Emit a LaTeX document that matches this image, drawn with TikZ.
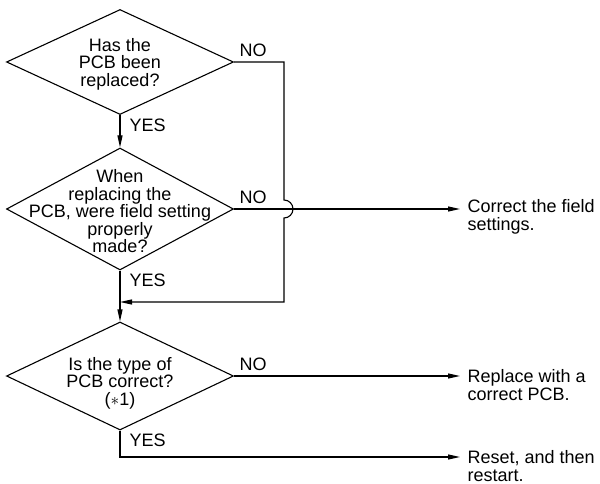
\documentclass[tikz,border=0pt]{standalone}
\usepackage{fontspec}
\setmainfont{Liberation Sans}
\usetikzlibrary{shapes.geometric,arrows.meta}

\begin{document}
\begin{tikzpicture}[x=1pt,y=1pt,line width=1.1pt,
        every node/.style={font=\fontsize{18}{17.5}\selectfont},
        decision/.style={draw,diamond,inner sep=0pt,minimum width=227pt},
        result/.style={align=left,anchor=north west,inner xsep=7pt,inner ysep=0pt},
        flow/.style={-{Triangle[length=12pt,width=5pt]}},
        no/.style={above right,inner sep=5pt},
        yes/.style={below right,inner xsep=9pt,inner ysep=3pt}]
    \useasboundingbox (0,0) rectangle (600,483);

    % questions
    \node[decision,minimum height=105pt,
        label={[align=center,yshift=-2pt]center:Has the\\PCB been\\replaced?}] (pcbrep) at (120,421) {};
    \node[decision,minimum height=122pt,
        label={[align=center,yshift=-2.5pt]center:When\\replacing the\\PCB, were field setting\\properly\\made?}] (fieldset) at (120,274) {};
    \node[decision,minimum height=108pt,
        label={[align=center,yshift=-7pt]center:Is the type of\\PCB correct?\\($\ast$1)}] (pcbtype) at (120,107) {};

    % actions
    \node[result] (fix) at (460,284) {Correct the field\\settings.};
    \node[result] (swap) at (460,114) {Replace with a\\correct PCB.};
    \node[result] (reset) at (460,33) {Reset, and then\\restart.};

    \coordinate (join) at (120,181);
    \coordinate (low) at (120,26);

    % connectors
    \draw[flow] (pcbrep.south) node[yes] {YES} -- (fieldset.north);
    \draw[flow] (pcbrep.east) node[no] {NO} -- (284,421) -- (284,283)
        arc[start angle=90,end angle=-90,radius=9] -- (284,181) -- (join);
    \draw[flow] (fieldset.east) node[no] {NO} -- (fix.west |- fieldset.east);
    \draw[flow] (fieldset.south) node[yes] {YES} -- (pcbtype.north);
    \draw[flow] (pcbtype.east) node[no] {NO} -- (swap.west |- pcbtype.east);
    \draw[flow] (pcbtype.south) node[yes] {YES} -- (low) -- (reset.west |- low);
\end{tikzpicture}
\end{document}
